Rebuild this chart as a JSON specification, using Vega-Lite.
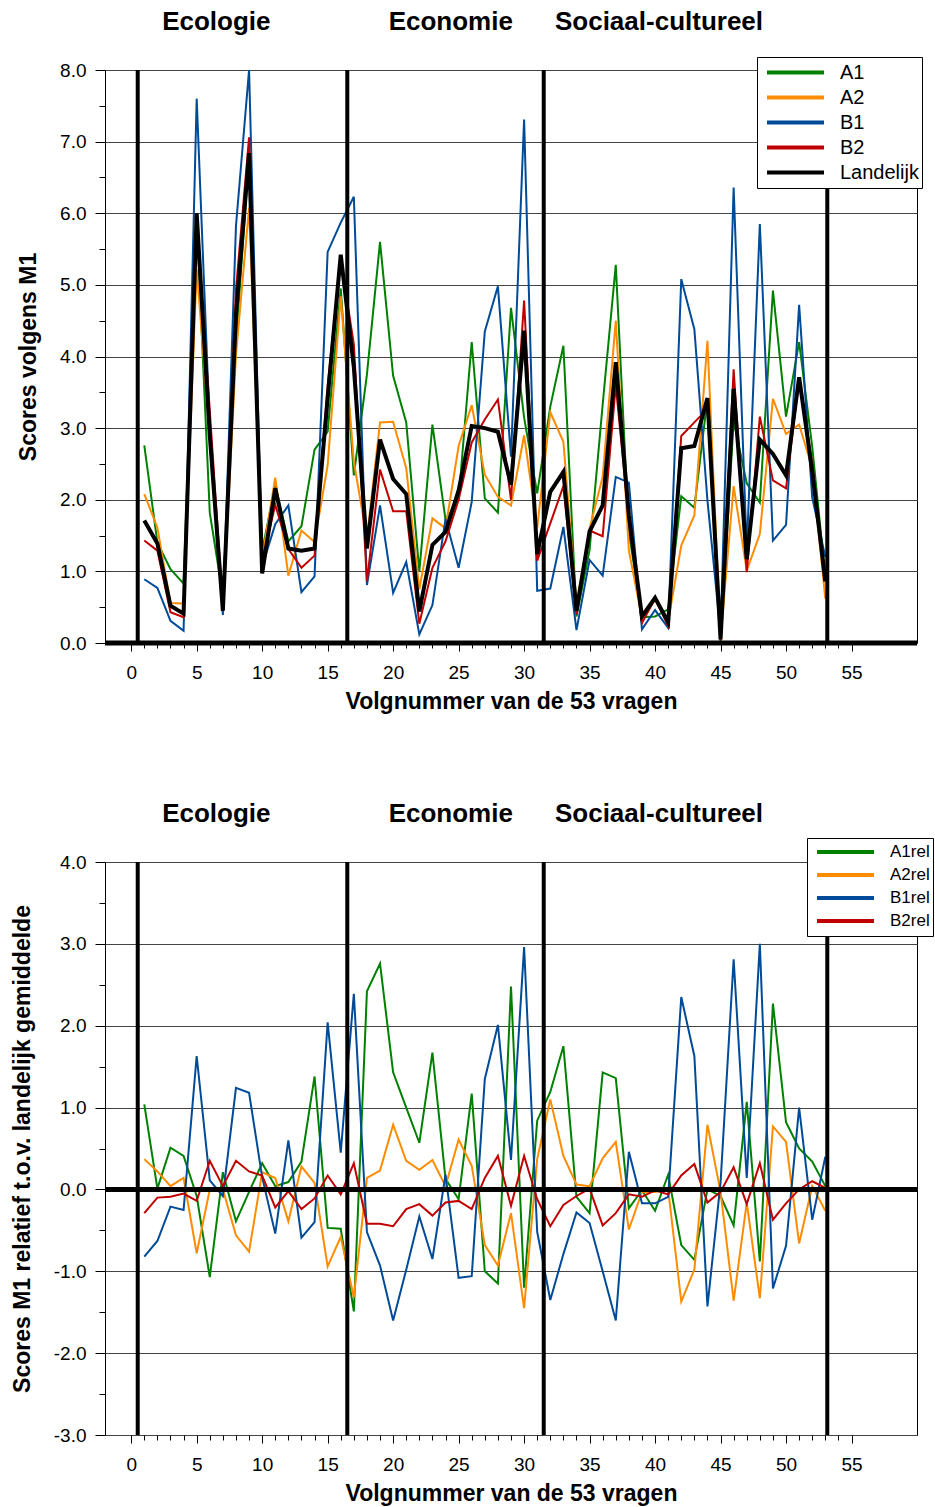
{
  "$schema": "https://vega.github.io/schema/vega-lite/v6.json",
  "background": "white",
  "padding": {"left": 10, "top": 8, "right": 0, "bottom": 0},
  "bounds": "flush",
  "spacing": 219,
  "resolve": {"scale": {"color": "independent", "x": "independent", "y": "independent"}, "legend": {"color": "independent"}},
  "config": {
    "font": "Liberation Sans",
    "view": {"stroke": "black", "strokeWidth": 1},
    "axis": {"labelColor": "black", "titleColor": "black", "tickColor": "black", "labelFont": "Liberation Sans", "titleFont": "Liberation Sans", "titleFontWeight": "bold"},
    "text": {"font": "Liberation Sans"}
  },
  "datasets": {
    "top": [
      {"q":1,"A1":2.76,"A2":2.08,"B1":0.89,"B2":1.43,"Landelijk":1.71},
      {"q":2,"A1":1.40,"A2":1.61,"B1":0.77,"B2":1.29,"Landelijk":1.39},
      {"q":3,"A1":1.03,"A2":0.56,"B1":0.31,"B2":0.43,"Landelijk":0.52},
      {"q":4,"A1":0.83,"A2":0.55,"B1":0.17,"B2":0.36,"Landelijk":0.41},
      {"q":5,"A1":5.92,"A2":5.22,"B1":7.60,"B2":5.86,"Landelijk":6.00},
      {"q":6,"A1":1.82,"A2":2.90,"B1":3.01,"B2":3.25,"Landelijk":2.90},
      {"q":7,"A1":0.66,"A2":0.45,"B1":0.39,"B2":0.49,"Landelijk":0.45},
      {"q":8,"A1":4.19,"A2":4.02,"B1":5.82,"B2":4.93,"Landelijk":4.58},
      {"q":9,"A1":6.81,"A2":6.08,"B1":8.00,"B2":7.06,"Landelijk":6.84},
      {"q":10,"A1":1.29,"A2":1.18,"B1":1.07,"B2":1.14,"Landelijk":0.97},
      {"q":11,"A1":2.20,"A2":2.31,"B1":1.66,"B2":1.93,"Landelijk":2.16},
      {"q":12,"A1":1.42,"A2":0.94,"B1":1.92,"B2":1.31,"Landelijk":1.32},
      {"q":13,"A1":1.63,"A2":1.57,"B1":0.71,"B2":1.05,"Landelijk":1.29},
      {"q":14,"A1":2.70,"A2":1.41,"B1":0.93,"B2":1.22,"Landelijk":1.32},
      {"q":15,"A1":2.95,"A2":2.48,"B1":5.46,"B2":3.59,"Landelijk":3.42},
      {"q":16,"A1":4.95,"A2":4.84,"B1":5.87,"B2":5.36,"Landelijk":5.42},
      {"q":17,"A1":2.34,"A2":2.53,"B1":6.23,"B2":4.17,"Landelijk":3.85},
      {"q":18,"A1":3.75,"A2":1.46,"B1":0.81,"B2":0.86,"Landelijk":1.32},
      {"q":19,"A1":5.60,"A2":3.08,"B1":1.92,"B2":2.42,"Landelijk":2.84},
      {"q":20,"A1":3.73,"A2":3.09,"B1":0.70,"B2":1.84,"Landelijk":2.29},
      {"q":21,"A1":3.08,"A2":2.44,"B1":1.13,"B2":1.84,"Landelijk":2.08},
      {"q":22,"A1":1.00,"A2":0.75,"B1":0.12,"B2":0.27,"Landelijk":0.44},
      {"q":23,"A1":3.05,"A2":1.74,"B1":0.53,"B2":1.05,"Landelijk":1.37},
      {"q":24,"A1":1.72,"A2":1.60,"B1":1.73,"B2":1.42,"Landelijk":1.55},
      {"q":25,"A1":2.01,"A2":2.75,"B1":1.05,"B2":2.00,"Landelijk":2.13},
      {"q":26,"A1":4.20,"A2":3.32,"B1":1.97,"B2":2.80,"Landelijk":3.03},
      {"q":27,"A1":2.02,"A2":2.35,"B1":4.35,"B2":3.12,"Landelijk":3.00},
      {"q":28,"A1":1.82,"A2":2.04,"B1":4.98,"B2":3.40,"Landelijk":2.95},
      {"q":29,"A1":4.68,"A2":1.92,"B1":2.60,"B2":2.00,"Landelijk":2.21},
      {"q":30,"A1":3.15,"A2":2.90,"B1":7.31,"B2":4.78,"Landelijk":4.36},
      {"q":31,"A1":2.09,"A2":1.61,"B1":0.73,"B2":1.15,"Landelijk":1.24},
      {"q":32,"A1":3.30,"A2":3.22,"B1":0.76,"B2":1.67,"Landelijk":2.11},
      {"q":33,"A1":4.15,"A2":2.81,"B1":1.62,"B2":2.19,"Landelijk":2.39},
      {"q":34,"A1":0.37,"A2":0.53,"B1":0.18,"B2":0.40,"Landelijk":0.45},
      {"q":35,"A1":1.30,"A2":1.60,"B1":1.16,"B2":1.57,"Landelijk":1.56},
      {"q":36,"A1":3.33,"A2":2.32,"B1":0.94,"B2":1.49,"Landelijk":1.92},
      {"q":37,"A1":5.28,"A2":4.50,"B1":2.32,"B2":3.60,"Landelijk":3.92},
      {"q":38,"A1":1.55,"A2":1.29,"B1":2.24,"B2":1.72,"Landelijk":1.78},
      {"q":39,"A1":0.36,"A2":0.34,"B1":0.19,"B2":0.28,"Landelijk":0.37},
      {"q":40,"A1":0.37,"A2":0.60,"B1":0.46,"B2":0.62,"Landelijk":0.63},
      {"q":41,"A1":0.47,"A2":0.30,"B1":0.21,"B2":0.24,"Landelijk":0.29},
      {"q":42,"A1":2.05,"A2":1.36,"B1":5.08,"B2":2.89,"Landelijk":2.72},
      {"q":43,"A1":1.89,"A2":1.78,"B1":4.38,"B2":3.08,"Landelijk":2.75},
      {"q":44,"A1":3.42,"A2":4.22,"B1":1.99,"B2":3.27,"Landelijk":3.42},
      {"q":45,"A1":0.00,"A2":0.06,"B1":0.13,"B2":0.04,"Landelijk":0.05},
      {"q":46,"A1":3.10,"A2":2.19,"B1":6.36,"B2":3.82,"Landelijk":3.55},
      {"q":47,"A1":2.23,"A2":1.01,"B1":1.30,"B2":0.99,"Landelijk":1.17},
      {"q":48,"A1":1.96,"A2":1.52,"B1":5.85,"B2":3.16,"Landelijk":2.84},
      {"q":49,"A1":4.92,"A2":3.41,"B1":1.43,"B2":2.27,"Landelijk":2.64},
      {"q":50,"A1":3.16,"A2":2.92,"B1":1.65,"B2":2.16,"Landelijk":2.34},
      {"q":51,"A1":4.20,"A2":3.05,"B1":4.72,"B2":3.70,"Landelijk":3.71},
      {"q":52,"A1":2.74,"A2":2.44,"B1":2.03,"B2":2.50,"Landelijk":2.40},
      {"q":53,"A1":0.92,"A2":0.62,"B1":1.20,"B2":0.88,"Landelijk":0.86}
    ],
    "bot": [
      {"q":1,"A1rel":1.04,"A2rel":0.37,"B1rel":-0.82,"B2rel":-0.29},
      {"q":2,"A1rel":0.01,"A2rel":0.22,"B1rel":-0.63,"B2rel":-0.10},
      {"q":3,"A1rel":0.51,"A2rel":0.04,"B1rel":-0.21,"B2rel":-0.09},
      {"q":4,"A1rel":0.41,"A2rel":0.14,"B1rel":-0.25,"B2rel":-0.05},
      {"q":5,"A1rel":-0.08,"A2rel":-0.78,"B1rel":1.63,"B2rel":-0.14},
      {"q":6,"A1rel":-1.07,"A2rel":0.00,"B1rel":0.11,"B2rel":0.35},
      {"q":7,"A1rel":0.21,"A2rel":0.00,"B1rel":-0.08,"B2rel":0.04},
      {"q":8,"A1rel":-0.39,"A2rel":-0.56,"B1rel":1.24,"B2rel":0.35},
      {"q":9,"A1rel":-0.03,"A2rel":-0.76,"B1rel":1.18,"B2rel":0.22},
      {"q":10,"A1rel":0.32,"A2rel":0.21,"B1rel":0.15,"B2rel":0.17},
      {"q":11,"A1rel":0.04,"A2rel":0.14,"B1rel":-0.54,"B2rel":-0.22},
      {"q":12,"A1rel":0.09,"A2rel":-0.39,"B1rel":0.60,"B2rel":-0.02},
      {"q":13,"A1rel":0.34,"A2rel":0.28,"B1rel":-0.59,"B2rel":-0.24},
      {"q":14,"A1rel":1.38,"A2rel":0.08,"B1rel":-0.40,"B2rel":-0.11},
      {"q":15,"A1rel":-0.47,"A2rel":-0.94,"B1rel":2.04,"B2rel":0.17},
      {"q":16,"A1rel":-0.48,"A2rel":-0.58,"B1rel":0.45,"B2rel":-0.06},
      {"q":17,"A1rel":-1.49,"A2rel":-1.32,"B1rel":2.39,"B2rel":0.32},
      {"q":18,"A1rel":2.42,"A2rel":0.14,"B1rel":-0.52,"B2rel":-0.42},
      {"q":19,"A1rel":2.76,"A2rel":0.23,"B1rel":-0.93,"B2rel":-0.42},
      {"q":20,"A1rel":1.43,"A2rel":0.79,"B1rel":-1.60,"B2rel":-0.45},
      {"q":21,"A1rel":1.00,"A2rel":0.35,"B1rel":-0.98,"B2rel":-0.24},
      {"q":22,"A1rel":0.57,"A2rel":0.24,"B1rel":-0.33,"B2rel":-0.18},
      {"q":23,"A1rel":1.67,"A2rel":0.36,"B1rel":-0.85,"B2rel":-0.32},
      {"q":24,"A1rel":0.13,"A2rel":0.04,"B1rel":0.18,"B2rel":-0.16},
      {"q":25,"A1rel":-0.12,"A2rel":0.61,"B1rel":-1.08,"B2rel":-0.14},
      {"q":26,"A1rel":1.17,"A2rel":0.29,"B1rel":-1.06,"B2rel":-0.24},
      {"q":27,"A1rel":-1.00,"A2rel":-0.68,"B1rel":1.35,"B2rel":0.14},
      {"q":28,"A1rel":-1.15,"A2rel":-0.93,"B1rel":2.01,"B2rel":0.41},
      {"q":29,"A1rel":2.48,"A2rel":-0.29,"B1rel":0.36,"B2rel":-0.20},
      {"q":30,"A1rel":-1.20,"A2rel":-1.45,"B1rel":2.96,"B2rel":0.41},
      {"q":31,"A1rel":0.84,"A2rel":0.37,"B1rel":-0.52,"B2rel":-0.12},
      {"q":32,"A1rel":1.19,"A2rel":1.10,"B1rel":-1.35,"B2rel":-0.45},
      {"q":33,"A1rel":1.75,"A2rel":0.41,"B1rel":-0.79,"B2rel":-0.19},
      {"q":34,"A1rel":-0.09,"A2rel":0.06,"B1rel":-0.28,"B2rel":-0.08},
      {"q":35,"A1rel":-0.29,"A2rel":0.04,"B1rel":-0.41,"B2rel":0.01},
      {"q":36,"A1rel":1.43,"A2rel":0.38,"B1rel":-1.00,"B2rel":-0.44},
      {"q":37,"A1rel":1.36,"A2rel":0.58,"B1rel":-1.60,"B2rel":-0.29},
      {"q":38,"A1rel":-0.23,"A2rel":-0.49,"B1rel":0.46,"B2rel":-0.06},
      {"q":39,"A1rel":-0.01,"A2rel":-0.03,"B1rel":-0.17,"B2rel":-0.09},
      {"q":40,"A1rel":-0.26,"A2rel":-0.03,"B1rel":-0.17,"B2rel":-0.01},
      {"q":41,"A1rel":0.18,"A2rel":0.00,"B1rel":-0.09,"B2rel":-0.06},
      {"q":42,"A1rel":-0.68,"A2rel":-1.37,"B1rel":2.35,"B2rel":0.17},
      {"q":43,"A1rel":-0.86,"A2rel":-0.98,"B1rel":1.63,"B2rel":0.31},
      {"q":44,"A1rel":0.00,"A2rel":0.79,"B1rel":-1.43,"B2rel":-0.16},
      {"q":45,"A1rel":-0.08,"A2rel":-0.03,"B1rel":0.08,"B2rel":-0.03},
      {"q":46,"A1rel":-0.44,"A2rel":-1.36,"B1rel":2.81,"B2rel":0.27},
      {"q":47,"A1rel":1.07,"A2rel":-0.16,"B1rel":0.14,"B2rel":-0.18},
      {"q":48,"A1rel":-0.88,"A2rel":-1.33,"B1rel":3.00,"B2rel":0.32},
      {"q":49,"A1rel":2.27,"A2rel":0.77,"B1rel":-1.21,"B2rel":-0.37},
      {"q":50,"A1rel":0.82,"A2rel":0.58,"B1rel":-0.69,"B2rel":-0.17},
      {"q":51,"A1rel":0.50,"A2rel":-0.66,"B1rel":1.00,"B2rel":0.00},
      {"q":52,"A1rel":0.34,"A2rel":0.04,"B1rel":-0.37,"B2rel":0.10},
      {"q":53,"A1rel":0.04,"A2rel":-0.26,"B1rel":0.40,"B2rel":0.02}
    ]
  },
  "vconcat": [
    {
      "width": 812,
      "height": 573,
      "layer": [
        {
          "data": {"name": "top"},
          "transform": [{"fold": ["A1", "A2", "B1", "B2", "Landelijk"], "as": ["series", "score"]}, {"filter": "datum.series !== 'Landelijk'"}],
          "mark": {"type": "line", "strokeWidth": 2, "clip": false},
          "encoding": {
            "x": {
              "field": "q", "type": "quantitative",
              "scale": {"domain": [-2, 60], "nice": false, "zero": false},
              "axis": {
                "values": [0,1,2,3,4,5,6,7,8,9,10,11,12,13,14,15,16,17,18,19,20,21,22,23,24,25,26,27,28,29,30,31,32,33,34,35,36,37,38,39,40,41,42,43,44,45,46,47,48,49,50,51,52,53,54,55],
                "tickCount": 200,
                "labelExpr": "datum.value % 5 === 0 ? format(datum.value, 'd') : ''",
                "tickSize": {"condition": {"test": "datum.value % 5 === 0", "value": 8}, "value": 5},
                "labelPadding": 12, "labelFontSize": 19, "labelFlush": false, "labelOverlap": false,
                "title": "Volgnummer van de 53 vragen", "titleFontSize": 23, "titlePadding": 8,
                "grid": false, "domain": false
              }
            },
            "y": {
              "field": "score", "type": "quantitative",
              "scale": {"domain": [0, 8], "nice": false},
              "axis": {
                "values": [0,0.5,1,1.5,2,2.5,3,3.5,4,4.5,5,5.5,6,6.5,7,7.5,8],
                "tickCount": 200,
                "labelExpr": "datum.value % 1 === 0 ? format(datum.value, '.1f') : ''",
                "tickSize": {"condition": {"test": "datum.value % 1 === 0", "value": 10}, "value": 6},
                "labelPadding": 9, "labelFontSize": 19, "labelFlush": false, "labelOverlap": false,
                "title": "Scores volgens M1", "titleFontSize": 23, "titlePadding": 19,
                "grid": true, "gridColor": "#444444",
                "gridOpacity": {"condition": {"test": "datum.value % 1 === 0", "value": 1}, "value": 0},
                "domain": false
              }
            },
            "color": {
              "field": "series", "type": "nominal",
              "scale": {"domain": ["A1", "A2", "B1", "B2", "Landelijk"], "range": ["#008000", "#ff8c00", "#004b98", "#c00000", "#000000"]},
              "legend": {
                "orient": "none", "legendX": 652, "legendY": -13, "title": null,
                "padding": 3, "fillColor": "white", "strokeColor": "black",
                "symbolType": "stroke", "symbolSize": 3249, "symbolStrokeWidth": 4,
                "clipHeight": 25, "rowPadding": 0, "symbolOffset": 5, "labelOffset": 14,
                "labelFontSize": 20, "labelColor": "black", "labelFont": "Liberation Sans"
              }
            }
          }
        },
        {
          "data": {"name": "top"},
          "transform": [{"fold": ["Landelijk"], "as": ["series", "score"]}],
          "mark": {"type": "line", "strokeWidth": 4, "clip": false},
          "encoding": {
            "x": {"field": "q", "type": "quantitative"},
            "y": {"field": "score", "type": "quantitative"},
            "color": {
              "field": "series", "type": "nominal",
              "legend": {
                "orient": "none", "legendX": 652, "legendY": -13, "title": null,
                "padding": 3, "fillColor": "white", "strokeColor": "black",
                "symbolType": "stroke", "symbolSize": 3249, "symbolStrokeWidth": 4,
                "clipHeight": 25, "rowPadding": 0, "symbolOffset": 5, "labelOffset": 14,
                "labelFontSize": 20, "labelColor": "black", "labelFont": "Liberation Sans"
              }
            }
          }
        },
        {
          "data": {"values": [{"x": 0.5}, {"x": 16.5}, {"x": 31.5}, {"x": 53.15}]},
          "mark": {"type": "rule", "color": "black", "strokeWidth": 4},
          "encoding": {"x": {"field": "x", "type": "quantitative"}}
        },
        {
          "data": {"values": [{"y": 0}]},
          "mark": {"type": "rule", "color": "black", "strokeWidth": 5},
          "encoding": {"y": {"field": "y", "type": "quantitative"}}
        },
        {
          "data": {"values": [{"x": 6.5, "y": 8.67, "t": "Ecologie"}, {"x": 24.4, "y": 8.67, "t": "Economie"}, {"x": 40.3, "y": 8.67, "t": "Sociaal-cultureel"}]},
          "mark": {"type": "text", "fontSize": 26, "fontWeight": "bold", "baseline": "middle", "align": "center", "color": "black"},
          "encoding": {
            "x": {"field": "x", "type": "quantitative"},
            "y": {"field": "y", "type": "quantitative"},
            "text": {"field": "t"}
          }
        }
      ]
    },
    {
      "width": 812,
      "height": 573,
      "layer": [
        {
          "data": {"name": "bot"},
          "transform": [{"fold": ["A1rel", "A2rel", "B1rel", "B2rel"], "as": ["series", "score"]}],
          "mark": {"type": "line", "strokeWidth": 2, "clip": false},
          "encoding": {
            "x": {
              "field": "q", "type": "quantitative",
              "scale": {"domain": [-2, 60], "nice": false, "zero": false},
              "axis": {
                "values": [0,1,2,3,4,5,6,7,8,9,10,11,12,13,14,15,16,17,18,19,20,21,22,23,24,25,26,27,28,29,30,31,32,33,34,35,36,37,38,39,40,41,42,43,44,45,46,47,48,49,50,51,52,53,54,55],
                "tickCount": 200,
                "labelExpr": "datum.value % 5 === 0 ? format(datum.value, 'd') : ''",
                "tickSize": {"condition": {"test": "datum.value % 5 === 0", "value": 8}, "value": 5},
                "labelPadding": 12, "labelFontSize": 19, "labelFlush": false, "labelOverlap": false,
                "title": "Volgnummer van de 53 vragen", "titleFontSize": 23, "titlePadding": 8,
                "grid": false, "domain": false
              }
            },
            "y": {
              "field": "score", "type": "quantitative",
              "scale": {"domain": [-3, 4], "nice": false, "zero": false},
              "axis": {
                "values": [-3,-2.5,-2,-1.5,-1,-0.5,0,0.5,1,1.5,2,2.5,3,3.5,4],
                "tickCount": 200,
                "labelExpr": "datum.value % 1 === 0 ? replace(format(datum.value, '.1f'), '\u2212', '-') : ''",
                "tickSize": {"condition": {"test": "datum.value % 1 === 0", "value": 10}, "value": 6},
                "labelPadding": 9, "labelFontSize": 19, "labelFlush": false, "labelOverlap": false,
                "title": "Scores M1 relatief t.o.v. landelijk gemiddelde", "titleFontSize": 23, "titlePadding": 19,
                "grid": true, "gridColor": "#444444",
                "gridOpacity": {"condition": {"test": "datum.value % 1 === 0", "value": 1}, "value": 0},
                "domain": false
              }
            },
            "color": {
              "field": "series", "type": "nominal",
              "scale": {"domain": ["A1rel", "A2rel", "B1rel", "B2rel"], "range": ["#008000", "#ff8c00", "#004b98", "#c00000"]},
              "legend": {
                "orient": "none", "legendX": 702, "legendY": -24, "title": null,
                "padding": 3, "fillColor": "white", "strokeColor": "black",
                "symbolType": "stroke", "symbolSize": 3249, "symbolStrokeWidth": 4,
                "clipHeight": 22.2, "rowPadding": 0, "symbolOffset": 5, "labelOffset": 14,
                "labelFontSize": 17, "labelColor": "black", "labelFont": "Liberation Sans"
              }
            }
          }
        },
        {
          "data": {"values": [{"x": 0.5}, {"x": 16.5}, {"x": 31.5}, {"x": 53.15}]},
          "mark": {"type": "rule", "color": "black", "strokeWidth": 4},
          "encoding": {"x": {"field": "x", "type": "quantitative"}}
        },
        {
          "data": {"values": [{"y": 0}]},
          "mark": {"type": "rule", "color": "black", "strokeWidth": 5},
          "encoding": {"y": {"field": "y", "type": "quantitative"}}
        },
        {
          "data": {"values": [{"x": 6.5, "y": 4.59, "t": "Ecologie"}, {"x": 24.4, "y": 4.59, "t": "Economie"}, {"x": 40.3, "y": 4.59, "t": "Sociaal-cultureel"}]},
          "mark": {"type": "text", "fontSize": 26, "fontWeight": "bold", "baseline": "middle", "align": "center", "color": "black"},
          "encoding": {
            "x": {"field": "x", "type": "quantitative"},
            "y": {"field": "y", "type": "quantitative"},
            "text": {"field": "t"}
          }
        }
      ]
    }
  ]
}
